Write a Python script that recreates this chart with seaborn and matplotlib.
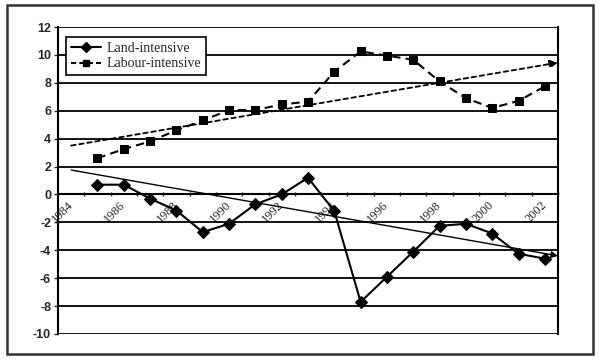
import numpy as np
import pandas as pd
import matplotlib
matplotlib.use("Agg")
import matplotlib.pyplot as plt
from matplotlib.lines import Line2D
from matplotlib.patches import Rectangle
import seaborn as sns

# data
years = list(range(1985, 2003))
land = [0.7, 0.7, -0.3, -1.15, -2.7, -2.1, -0.7, 0.0, 1.2, -1.2,
        -7.7, -5.9, -4.1, -2.25, -2.1, -2.8, -4.25, -4.6]
labour = [2.6, 3.25, 3.8, 4.6, 5.3, 6.05, 6.05, 6.45, 6.65, 8.8,
          10.25, 9.95, 9.65, 8.1, 6.9, 6.2, 6.7, 7.75]
trend_x = [1984, 2002.5]
trend_land = [1.75, -4.4]
trend_labour = [3.5, 9.45]
tick_years = list(range(1984, 2003, 2))
y_ticks = list(range(-10, 13, 2))

sns.set_style("white")
plt.rcParams["font.family"] = ["Liberation Serif", "DejaVu Serif"]

df = pd.DataFrame({"year": years, "Land-intensive": land, "Labour-intensive": labour})

fig = plt.figure(figsize=(6, 3.59), dpi=100)
# outer frame
fig.patches.append(Rectangle((7 / 600, 1 - 354 / 359), 586 / 600, 349 / 359,
                             transform=fig.transFigure, fill=False,
                             edgecolor="#333333", linewidth=1.8))
ax = fig.add_axes([58 / 600, 25 / 359, 500 / 600, 307 / 359])

for y in y_ticks:
    ax.axhline(y, color="black", linewidth=1.3, zorder=1)

# trend lines
ax.annotate("", xy=(trend_x[1], trend_labour[1]), xytext=(trend_x[0], trend_labour[0]),
            arrowprops=dict(arrowstyle="-|>", color="black", lw=1.3, linestyle=(0, (2.5, 2)),
                            mutation_scale=12, shrinkA=0, shrinkB=0), zorder=2)
ax.annotate("", xy=(trend_x[1], trend_land[1]), xytext=(trend_x[0], trend_land[0]),
            arrowprops=dict(arrowstyle="-|>", color="black", lw=1.0,
                            mutation_scale=10, shrinkA=0, shrinkB=0), zorder=2)

sns.lineplot(data=df, x="year", y="Land-intensive", ax=ax, color="black",
             marker="D", markersize=6, linewidth=1.5, markeredgecolor="black", zorder=3)
sns.lineplot(data=df, x="year", y="Labour-intensive", ax=ax, color="black",
             marker="s", markersize=5.5, linewidth=1.5, linestyle=(0, (4, 2.5)),
             markeredgecolor="black", zorder=3)

ax.set_xlim(1983.5, 2002.5)
ax.set_ylim(-10, 12)
ax.set_xlabel("")
ax.set_ylabel("")

ax.spines["top"].set_visible(False)
ax.spines["bottom"].set_position(("data", 0))
for s in ["left", "right", "bottom"]:
    ax.spines[s].set_color("black")
    ax.spines[s].set_linewidth(1.5)

ax.set_yticks(y_ticks)
ax.set_yticklabels([str(v) for v in y_ticks], fontsize=9, fontweight="bold",
                   family=["Liberation Sans", "DejaVu Sans"])
ax.tick_params(axis="y", length=3, width=1, pad=2, left=True)

ax.set_xticks(tick_years)
ax.set_xticklabels([str(v) for v in tick_years], rotation=45, ha="right", va="center",
                   rotation_mode="anchor", fontsize=9)
ax.tick_params(axis="x", which="major", length=0, pad=6)
ax.set_xticks(np.arange(1983.5, 2003, 1.0), minor=True)
ax.tick_params(axis="x", which="minor", length=3, width=1, direction="inout", bottom=True)

handles = [Line2D([], [], color="black", marker="D", markersize=5, linewidth=1.5),
           Line2D([], [], color="black", marker="s", markersize=4.5, linewidth=1.5,
                  linestyle=(0, (2.5, 1.5)))]
leg = ax.legend(handles, ["Land-intensive", "Labour-intensive"], loc="upper left",
                bbox_to_anchor=(0.016, 0.968), frameon=True, fancybox=False,
                fontsize=10, handlelength=2.2, handletextpad=0.4, borderpad=0.35,
                labelspacing=0.2, borderaxespad=0)
leg.get_frame().set_edgecolor("black")
leg.get_frame().set_linewidth(1.2)
leg.get_frame().set_alpha(1)

fig.savefig("out.png", dpi=100)
